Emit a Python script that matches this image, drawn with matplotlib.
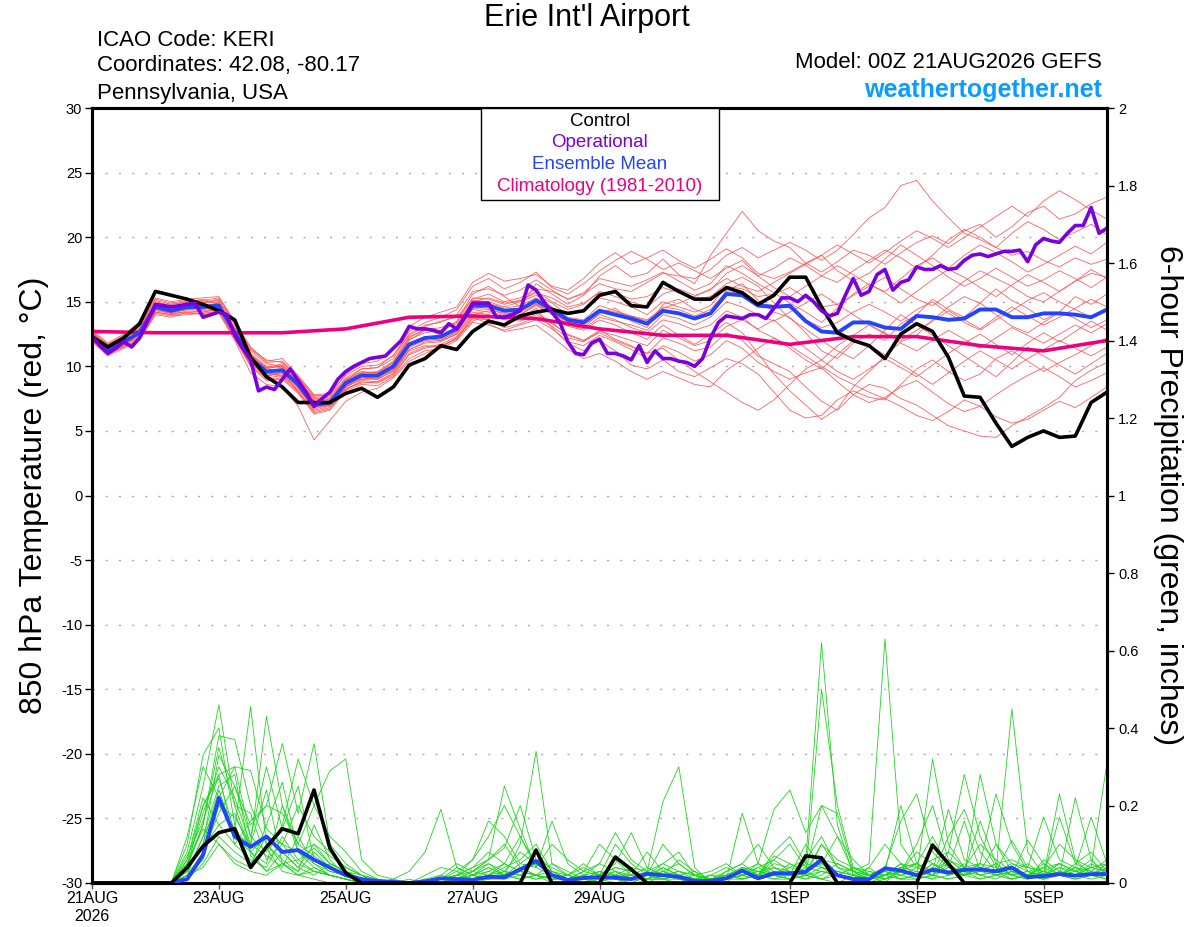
import numpy as np
import matplotlib.pyplot as plt
from matplotlib.patches import Rectangle
from matplotlib.ticker import FormatStrFormatter

plt.rcParams['font.family'] = ['Liberation Sans', 'DejaVu Sans']
plt.rcParams['axes.unicode_minus'] = False

# ---- data (850 hPa temperature, degC) ----
# 6-hourly steps, hour 0 .. 384
control_t = [12.3, 11.5, 12.2, 13.3, 15.8, 15.5, 15.2, 14.8, 14.3, 13.6,
             10.7, 9.2, 8.4, 7.2, 7.2, 7.2, 7.9, 8.3, 7.6, 8.4,
             10.1, 10.6, 11.6, 11.3, 12.7, 13.5, 13.2, 13.9, 14.2, 14.4,
             14.1, 14.3, 15.5, 15.8, 14.7, 14.6, 16.5, 15.8, 15.2, 15.2,
             16.1, 15.7, 14.8, 15.5, 16.9, 16.9, 14.6, 12.6, 12.0, 11.6,
             10.6, 12.5, 13.3, 12.7, 10.7, 7.7, 7.6, 5.6, 3.8, 4.5,
             5.0, 4.5, 4.6, 7.2, 8.0]

mean_t = [12.2, 11.3, 11.9, 12.6, 14.6, 14.3, 14.6, 14.6, 14.7, 12.6,
          10.6, 9.6, 9.7, 8.6, 7.0, 7.2, 8.7, 9.3, 9.3, 10.0,
          11.7, 12.2, 12.3, 12.9, 14.7, 14.7, 14.3, 14.4, 15.1, 14.4,
          13.6, 13.4, 14.3, 14.0, 13.7, 13.3, 14.3, 14.1, 13.7, 14.1,
          15.6, 15.5, 14.7, 14.6, 14.7, 13.5, 12.7, 12.6, 13.4, 13.4,
          13.0, 12.9, 13.9, 13.8, 13.6, 13.7, 14.4, 14.4, 13.8, 13.8,
          14.1, 14.1, 14.0, 13.8, 14.4]

# operational run, 3-hourly steps
oper_t = [12.3, 11.6, 11.0, 11.4, 11.9, 11.5, 12.2, 13.5, 14.8, 14.7,
          14.6, 14.7, 14.8, 14.9, 13.8, 14.0, 14.2, 14.0, 12.4, 11.4,
          10.5, 8.1, 8.4, 8.2, 9.0, 9.8, 8.9, 8.0, 6.9, 7.5,
          8.0, 9.0, 9.6, 10.0, 10.3, 10.6, 10.7, 10.8, 11.4, 12.0,
          13.1, 12.9, 12.9, 12.8, 12.6, 13.3, 12.9, 13.8, 14.9, 14.9,
          14.9, 13.8, 13.8, 14.0, 14.3, 16.3, 15.9, 15.0, 14.2, 13.4,
          11.9, 11.0, 10.9, 11.8, 12.1, 11.0, 11.0, 10.8, 10.5, 11.6,
          10.3, 11.2, 10.6, 10.6, 10.4, 10.3, 10.0, 10.6, 12.2, 13.4,
          13.9, 13.8, 13.7, 14.0, 14.0, 13.7, 14.5, 15.3, 15.3, 15.0,
          15.5, 15.0, 14.3, 13.9, 14.1, 15.5, 16.8, 15.5, 15.8, 17.1,
          17.5, 15.9, 16.5, 16.7, 17.7, 17.5, 17.5, 17.8, 17.5, 17.6,
          18.2, 18.6, 18.7, 18.5, 18.7, 18.9, 18.9, 19.0, 18.1, 19.4,
          19.9, 19.7, 19.6, 20.3, 20.9, 20.9, 22.3, 20.3, 20.7]

# climatology, daily
clim_t = [12.7, 12.6, 12.6, 12.6, 12.9, 13.8, 13.9, 13.7, 12.9, 12.4,
          12.4, 11.7, 12.3, 12.3, 11.6, 11.2, 12.0]

members_t = [
    [12.5, 11.4, 12.3, 13.0, 14.9, 14.8, 15.0, 15.2, 14.8, 13.0, 11.2, 10.2, 10.0, 8.8, 7.6, 7.4, 8.9, 9.8, 9.9, 10.9,
     12.4, 13.1, 13.5, 13.8, 15.2, 15.6, 15.0, 15.3, 16.0, 15.8, 15.2, 15.6, 16.4, 16.0, 15.8, 16.5, 17.2, 17.0, 16.8, 17.5,
     18.6, 19.2, 18.4, 19.0, 19.6, 19.0, 18.2, 19.0, 20.2, 21.5, 22.3, 24.0, 24.4, 22.8, 21.5, 20.3, 19.8, 19.2, 18.6, 18.9,
     18.2, 17.7, 18.4, 17.9, 18.3],
    [12.0, 11.0, 11.6, 12.8, 14.4, 14.1, 14.9, 14.5, 15.0, 12.2, 10.3, 9.3, 9.5, 8.0, 6.7, 7.0, 8.6, 9.2, 9.0, 10.2,
     12.0, 12.8, 12.6, 13.5, 15.6, 16.2, 15.4, 14.6, 16.4, 15.6, 14.8, 15.5, 17.0, 17.8, 16.9, 17.2, 18.3, 17.1, 16.4, 18.6,
     20.3, 22.0, 20.5, 19.7, 19.2, 18.0, 17.3, 18.1, 19.0, 18.6, 17.9, 18.8, 19.6, 20.1, 19.5, 20.5, 21.0, 20.0, 20.8, 21.9,
     22.4, 21.4, 21.8, 22.6, 23.1],
    [12.4, 11.2, 11.8, 12.2, 14.2, 14.0, 14.3, 14.2, 14.5, 12.4, 10.1, 9.5, 9.2, 8.2, 6.9, 7.0, 8.2, 8.9, 8.8, 9.4,
     11.0, 11.5, 11.7, 12.3, 13.9, 13.6, 13.3, 13.8, 14.2, 13.3, 12.5, 12.0, 12.8, 12.1, 11.6, 11.0, 12.2, 11.8, 11.2, 11.5,
     12.6, 12.0, 10.8, 10.2, 9.6, 8.4, 7.3, 6.6, 7.8, 8.6, 8.3, 7.5, 7.0, 6.2, 5.4, 5.0, 4.6, 4.5, 5.4, 6.1,
     6.8, 7.6, 8.9, 9.7, 10.3],
    [12.1, 11.0, 11.5, 12.0, 14.0, 13.8, 14.2, 14.0, 14.1, 12.0, 9.5, 8.6, 8.4, 6.9, 4.3, 5.8, 7.3, 8.0, 8.3, 9.1,
     10.4, 11.0, 11.5, 12.2, 13.5, 14.0, 13.6, 14.0, 14.8, 14.3, 13.2, 13.0, 14.1, 14.5, 13.5, 13.0, 14.8, 15.2, 14.4, 14.0,
     15.9, 16.4, 15.1, 14.2, 13.8, 12.6, 11.2, 10.6, 11.8, 12.5, 12.0, 13.3, 14.0, 15.2, 14.4, 13.8, 14.9, 16.0, 15.1, 14.5,
     13.6, 14.2, 15.4, 14.8, 15.6],
    [12.6, 11.6, 12.2, 12.9, 15.0, 14.6, 14.8, 14.9, 15.2, 13.3, 11.0, 10.0, 9.9, 8.7, 7.3, 7.1, 8.5, 9.0, 9.2, 9.7,
     11.3, 11.9, 12.0, 12.5, 14.0, 14.3, 13.9, 13.6, 14.5, 13.0, 11.8, 11.2, 12.0, 11.2, 10.1, 9.8, 10.5, 9.6, 9.2, 9.9,
     10.6, 10.2, 9.4, 8.0, 6.6, 6.0, 6.2, 7.4, 8.1, 7.6, 7.4, 8.6, 9.8, 10.5, 9.6, 8.9, 9.4, 10.6, 11.2, 10.4,
     9.6, 10.3, 10.9, 11.6, 12.2],
    [12.3, 11.5, 12.0, 12.6, 14.7, 14.5, 14.6, 14.8, 14.6, 12.8, 10.9, 9.8, 10.1, 9.0, 7.5, 7.6, 9.0, 9.6, 9.5, 10.3,
     12.2, 12.9, 12.4, 13.1, 15.1, 15.0, 14.6, 15.0, 15.5, 14.9, 14.0, 14.3, 15.3, 15.0, 14.6, 14.0, 15.0, 14.6, 14.2, 14.7,
     16.2, 16.0, 15.4, 15.6, 16.1, 15.3, 14.6, 14.8, 15.5, 16.2, 16.9, 16.0, 15.2, 14.7, 15.6, 16.6, 17.4, 16.8, 16.2, 15.4,
     15.0, 15.8, 16.6, 17.2, 16.9],
    [12.2, 11.1, 11.7, 12.4, 14.5, 14.1, 14.4, 14.3, 14.5, 12.5, 10.4, 9.2, 9.6, 8.4, 6.6, 6.9, 8.4, 9.1, 9.0, 9.7,
     11.5, 12.0, 12.1, 12.6, 14.4, 14.2, 13.8, 14.0, 14.7, 14.1, 13.1, 12.8, 13.6, 13.2, 12.6, 12.1, 13.2, 12.4, 11.7, 12.5,
     13.4, 12.6, 11.0, 9.4, 8.1, 7.0, 5.9, 6.7, 8.4, 9.6, 10.8, 11.9, 12.4, 13.6, 14.6, 15.4, 14.9, 14.0, 13.1, 12.6,
     13.4, 14.2, 13.7, 13.0, 13.6],
    [12.8, 11.8, 12.5, 13.4, 15.3, 15.0, 15.2, 15.3, 15.4, 13.5, 11.5, 10.4, 10.6, 9.3, 7.8, 7.9, 9.3, 10.0, 10.1, 10.8,
     12.7, 13.4, 13.8, 14.4, 16.2, 16.8, 16.0, 16.5, 17.3, 16.1, 15.6, 16.4, 17.4, 18.2, 18.9, 18.3, 17.5, 18.0, 17.4, 16.8,
     17.6, 18.2, 17.0, 16.1, 15.4, 16.2, 17.0, 17.8, 17.1, 16.3, 15.8, 16.8, 17.8, 18.4, 17.6, 18.6, 19.4, 18.8, 18.1, 17.3,
     17.9, 18.6, 19.3, 18.7, 19.6],
    [11.9, 10.8, 11.4, 12.1, 14.1, 13.9, 14.0, 14.1, 14.3, 12.1, 10.0, 8.9, 9.0, 7.9, 6.3, 6.6, 8.1, 8.6, 8.5, 9.2,
     10.6, 11.2, 11.4, 12.0, 13.4, 13.2, 12.8, 13.2, 13.6, 12.9, 11.9, 11.6, 12.4, 11.9, 11.3, 10.6, 11.6, 11.1, 10.4, 10.9,
     12.0, 11.4, 10.3, 9.6, 9.0, 9.5, 9.9, 8.8, 7.8, 7.2, 7.6, 8.4, 8.9, 8.0, 7.1, 6.5, 6.9, 7.8, 8.6, 9.3,
     9.9, 9.2, 8.4, 8.9, 9.5],
    [12.4, 11.3, 12.1, 12.7, 14.8, 14.4, 14.7, 14.6, 14.9, 12.7, 10.7, 9.7, 9.8, 8.6, 7.1, 7.3, 8.8, 9.4, 9.3, 10.1,
     11.8, 12.3, 12.2, 13.0, 14.8, 14.9, 14.5, 14.7, 15.3, 14.6, 13.8, 13.6, 14.7, 14.3, 13.9, 13.5, 14.6, 14.4, 13.9, 14.4,
     15.8, 15.6, 14.9, 14.7, 14.5, 13.6, 13.0, 13.4, 14.2, 14.8, 14.2, 13.5, 14.4, 15.0, 14.1, 13.4, 12.8, 13.6, 14.3, 15.1,
     15.7, 15.0, 14.4, 13.8, 14.5],
    [12.5, 11.5, 12.1, 13.1, 15.1, 14.8, 15.0, 15.0, 15.1, 13.2, 11.3, 10.5, 10.3, 9.1, 7.7, 7.8, 9.4, 10.2, 10.4, 11.3,
     13.1, 13.8, 14.2, 14.6, 16.5, 17.2, 16.6, 16.8, 17.1, 16.2, 15.9, 16.8, 18.0, 18.8, 17.9, 18.4, 19.0, 18.2, 17.6, 18.3,
     19.1, 18.4, 17.2, 16.8, 17.3, 18.0, 18.6, 17.4, 16.6, 17.2, 18.3, 19.4, 18.6, 17.8, 16.9, 16.2, 16.8, 17.6, 16.9, 16.2,
     16.7, 17.4, 16.8, 16.1, 16.9],
    [12.0, 11.1, 11.6, 12.3, 14.3, 14.1, 14.2, 14.2, 14.4, 12.3, 10.2, 9.1, 9.3, 8.1, 6.5, 6.8, 8.3, 8.7, 8.8, 9.5,
     11.2, 11.6, 11.5, 12.2, 13.8, 13.3, 12.7, 12.9, 13.2, 12.3, 11.3, 10.6, 11.0, 10.4, 9.6, 9.0, 9.6, 9.1, 8.6, 8.4,
     9.7, 10.5, 11.4, 12.2, 11.4, 10.5, 9.8, 10.9, 12.0, 11.6, 10.9, 10.2, 9.4, 8.6, 9.5, 10.4, 11.2, 10.5, 9.8, 10.6,
     11.3, 12.0, 11.4, 10.8, 11.5],
    [12.6, 11.7, 12.3, 12.8, 14.9, 14.6, 14.9, 14.9, 15.0, 12.9, 10.8, 9.9, 10.2, 8.9, 7.4, 7.5, 8.9, 9.5, 9.6, 10.4,
     12.3, 12.8, 13.0, 13.4, 15.3, 15.2, 14.8, 15.1, 15.8, 15.0, 14.4, 14.8, 15.8, 15.4, 15.0, 14.6, 15.6, 16.0, 15.5, 15.9,
     17.2, 17.8, 17.0, 17.6, 18.4, 17.8, 17.0, 16.5, 17.4, 18.2, 19.0, 18.4, 17.6, 18.6, 19.8, 20.6, 20.0, 19.2, 20.3, 21.2,
     20.6, 19.8, 20.4, 21.0, 20.2],
    [12.2, 11.2, 11.8, 12.5, 14.6, 14.2, 14.5, 14.5, 14.6, 12.6, 10.5, 9.4, 9.5, 8.4, 6.9, 7.1, 8.5, 9.2, 9.1, 9.9,
     11.6, 12.1, 12.4, 12.8, 14.6, 14.5, 14.0, 14.3, 14.9, 14.2, 13.4, 13.2, 14.0, 13.6, 13.0, 12.6, 13.6, 13.3, 12.8, 13.2,
     14.3, 13.8, 12.8, 12.2, 11.6, 10.8, 10.0, 9.2, 8.6, 8.0, 7.5, 6.9, 6.2, 5.8, 6.5, 7.4, 6.9, 6.1, 5.6, 5.9,
     6.6, 7.3, 6.8, 7.6, 8.4],
    [12.3, 11.4, 12.0, 12.7, 14.7, 14.4, 14.6, 14.7, 14.8, 12.7, 10.6, 9.6, 9.6, 8.5, 7.0, 7.2, 8.6, 9.3, 9.2, 10.0,
     11.7, 12.2, 12.0, 12.7, 14.5, 14.4, 14.1, 14.2, 14.8, 14.0, 13.2, 12.9, 13.8, 13.5, 13.2, 12.8, 14.0, 13.7, 13.2, 13.8,
     15.0, 14.6, 14.0, 13.5, 14.2, 14.9, 15.6, 14.8, 14.0, 13.2, 12.5, 12.0, 12.8, 13.5, 14.3, 13.6, 12.9, 13.8, 14.6, 13.9,
     13.2, 13.8, 14.5, 15.2, 14.6],
    [12.1, 11.1, 11.7, 12.5, 14.5, 14.2, 14.5, 14.4, 14.6, 12.5, 10.5, 9.5, 9.7, 8.5, 6.9, 7.1, 8.7, 9.3, 9.1, 9.8,
     11.5, 12.1, 12.3, 12.9, 14.7, 14.8, 14.4, 14.5, 15.2, 14.5, 13.7, 13.5, 14.4, 14.2, 13.9, 13.6, 14.5, 14.9, 15.4, 16.0,
     16.8, 16.2, 15.8, 16.5, 17.2, 17.9, 18.6, 19.4, 18.7, 18.0, 18.8, 19.7, 20.5, 19.9, 19.2, 20.0, 20.8, 21.6, 22.4, 21.6,
     22.8, 23.6, 22.9, 22.1, 21.4],
    [12.4, 11.3, 11.9, 12.4, 14.4, 14.2, 14.4, 14.5, 14.5, 12.5, 10.4, 9.3, 9.4, 8.3, 6.8, 7.0, 8.4, 9.0, 9.0, 9.6,
     11.3, 11.8, 11.9, 12.5, 14.2, 14.0, 13.6, 13.5, 14.0, 13.4, 12.4, 12.0, 12.6, 12.0, 11.5, 11.0, 11.4, 10.5, 9.6, 8.8,
     8.0, 7.2, 6.6, 7.4, 8.6, 9.8, 10.5, 11.6, 12.4, 13.2, 12.6, 11.8, 11.2, 12.0, 12.8, 12.1, 11.4, 12.2, 13.0, 12.4,
     11.8, 12.5, 13.2, 12.6, 13.3],
    [12.7, 11.7, 12.4, 13.2, 15.2, 14.9, 15.1, 15.1, 15.3, 13.4, 11.4, 10.3, 10.4, 9.2, 7.7, 7.7, 9.1, 9.8, 9.9, 10.6,
     12.5, 13.2, 13.4, 14.0, 15.8, 16.0, 15.5, 15.9, 16.7, 15.9, 15.2, 15.7, 16.8, 16.5, 16.2, 16.7, 17.3, 16.6, 15.9, 16.4,
     17.8, 17.2, 16.4, 15.7, 14.9, 14.2, 13.4, 14.5, 15.6, 16.4, 15.7, 14.9, 15.8, 16.7, 17.5, 16.9, 16.1, 15.4, 16.3, 17.1,
     16.5, 15.8, 16.6, 17.5, 16.8],
    [12.0, 10.9, 11.5, 12.2, 14.2, 14.0, 14.1, 14.1, 14.2, 12.2, 10.1, 9.0, 9.1, 8.0, 6.4, 6.7, 8.2, 8.8, 8.7, 9.3,
     10.9, 11.4, 11.6, 12.1, 13.7, 13.6, 13.0, 13.3, 13.8, 13.1, 12.2, 11.9, 12.7, 12.4, 12.0, 11.6, 12.8, 12.2, 11.6, 12.0,
     13.1, 13.6, 12.9, 13.6, 12.5, 11.4, 10.5, 9.6, 9.0, 9.8, 10.6, 9.9, 9.2, 10.1, 11.0, 11.8, 12.5, 11.7, 10.9, 11.8,
     12.6, 11.9, 12.7, 13.5, 12.8],
    [12.5, 11.6, 12.2, 12.8, 14.9, 14.6, 14.8, 14.8, 14.8, 12.9, 10.9, 9.9, 10.0, 8.8, 7.3, 7.4, 8.9, 9.5, 9.5, 10.3,
     12.1, 12.6, 12.8, 13.3, 15.0, 15.3, 14.9, 15.1, 15.7, 15.3, 14.6, 14.9, 15.7, 15.7, 15.2, 15.4, 16.1, 15.7, 15.2, 15.4,
     16.4, 16.9, 16.2, 14.9, 13.7, 12.9, 12.0, 11.2, 10.6, 11.6, 12.8, 14.0, 13.2, 12.4, 11.6, 10.8, 10.0, 9.2, 10.3, 11.5,
     10.8, 10.1, 9.4, 10.2, 11.0],
]

# ---- data (6-hour precipitation, inches) ----
control_p = [0, 0, 0, 0, 0, 0, 0.04, 0.095, 0.13, 0.14,
             0.04, 0.093, 0.14, 0.127, 0.24, 0.09, 0.026, 0, 0, 0,
             0, 0, 0, 0, 0, 0, 0, 0, 0.085, 0,
             0, 0, 0, 0.067, 0.035, 0, 0, 0, 0, 0,
             0, 0, 0, 0, 0, 0.07, 0.065, 0, 0, 0,
             0, 0, 0, 0.098, 0.05, 0, 0, 0, 0, 0,
             0, 0, 0, 0, 0]

mean_p = [0, 0, 0, 0, 0, 0, 0.01, 0.072, 0.22, 0.12,
          0.093, 0.12, 0.08, 0.085, 0.06, 0.04, 0.02, 0.01, 0.005, 0.003,
          0, 0.004, 0.012, 0.01, 0.008, 0.016, 0.015, 0.035, 0.057, 0.02,
          0.008, 0.013, 0.015, 0.014, 0.01, 0.024, 0.02, 0.016, 0.005, 0.005,
          0.012, 0.032, 0.012, 0.025, 0.025, 0.029, 0.06, 0.02, 0.01, 0.01,
          0.038, 0.032, 0.02, 0.034, 0.027, 0.034, 0.035, 0.03, 0.04, 0.015,
          0.018, 0.023, 0.019, 0.023, 0.023]

members_p = [
    [0, 0, 0, 0, 0, 0, 0.08, 0.25, 0.46, 0.2, 0.08, 0.03, 0.05, 0.02, 0.01, 0, 0, 0, 0, 0,
     0, 0.01, 0.02, 0.05, 0.03, 0.06, 0.1, 0.04, 0.02, 0, 0, 0.02, 0.05, 0.03, 0.01, 0, 0.02, 0.06, 0.03, 0,
     0, 0.04, 0.02, 0.08, 0.12, 0.05, 0.62, 0.15, 0.02, 0, 0.01, 0.03, 0.08, 0.05, 0.02, 0.04, 0.1, 0.06, 0.03, 0.01,
     0.02, 0.05, 0.03, 0.02, 0.04],
    [0, 0, 0, 0, 0, 0, 0.02, 0.12, 0.2, 0.14, 0.455, 0.1, 0.05, 0.06, 0.03, 0.02, 0.01, 0, 0, 0.01,
     0.03, 0.08, 0.19, 0.04, 0.02, 0.01, 0.03, 0.08, 0.05, 0.02, 0, 0.01, 0.03, 0.01, 0, 0.02, 0.04, 0.02, 0, 0,
     0.01, 0.02, 0.04, 0.02, 0.05, 0.03, 0.01, 0, 0.02, 0.04, 0.01, 0.03, 0.1, 0.2, 0.06, 0.03, 0.16, 0.05, 0.02, 0.01,
     0.03, 0.02, 0.05, 0.08, 0.03],
    [0, 0, 0, 0, 0, 0, 0.05, 0.18, 0.3, 0.22, 0.1, 0.43, 0.2, 0.08, 0.05, 0.02, 0.01, 0, 0, 0,
     0, 0, 0.01, 0.02, 0.06, 0.16, 0.12, 0.05, 0.08, 0.03, 0.01, 0, 0.02, 0.05, 0.13, 0.04, 0.02, 0.01, 0, 0,
     0.03, 0.05, 0.02, 0.04, 0.03, 0.02, 0.5, 0.2, 0.04, 0.02, 0, 0.04, 0.03, 0.02, 0.12, 0.19, 0.08, 0.03, 0.01, 0.02,
     0.04, 0.1, 0.06, 0.02, 0.05],
    [0, 0, 0, 0, 0, 0, 0.03, 0.1, 0.33, 0.25, 0.15, 0.2, 0.36, 0.18, 0.36, 0.1, 0.05, 0.02, 0, 0,
     0.01, 0, 0, 0.01, 0.03, 0.05, 0.02, 0.1, 0.34, 0.05, 0.02, 0.01, 0, 0.02, 0.04, 0.03, 0.01, 0, 0.01, 0.02,
     0.01, 0.03, 0.05, 0.02, 0.01, 0.03, 0.2, 0.12, 0.03, 0, 0.02, 0.05, 0.02, 0.32, 0.1, 0.04, 0.02, 0.03, 0.45, 0.08,
     0.02, 0.04, 0.03, 0.06, 0.02],
    [0, 0, 0, 0, 0, 0, 0.06, 0.2, 0.28, 0.3, 0.12, 0.08, 0.15, 0.32, 0.2, 0.29, 0.32, 0.06, 0.02, 0.01,
     0, 0, 0, 0.02, 0.04, 0.08, 0.05, 0.12, 0.04, 0.16, 0.05, 0.02, 0.01, 0, 0.01, 0.03, 0.21, 0.3, 0.04, 0,
     0.01, 0.02, 0.04, 0.06, 0.03, 0.02, 0.1, 0.04, 0.02, 0.01, 0.02, 0.03, 0.02, 0.05, 0.03, 0.02, 0.28, 0.1, 0.03, 0.02,
     0.01, 0.03, 0.02, 0.04, 0.31],
    [0, 0, 0, 0, 0, 0, 0.1, 0.33, 0.4, 0.15, 0.05, 0.12, 0.08, 0.04, 0.1, 0.05, 0.03, 0.02, 0.01, 0,
     0, 0.02, 0.04, 0.03, 0.01, 0.02, 0.04, 0.06, 0.1, 0.03, 0.01, 0.03, 0.1, 0.06, 0.02, 0.01, 0.03, 0.05, 0.02, 0,
     0.01, 0.18, 0.05, 0.19, 0.24, 0.13, 0.2, 0.18, 0.03, 0.01, 0.02, 0.04, 0.05, 0.02, 0.08, 0.04, 0.05, 0.23, 0.1, 0.03,
     0.02, 0.23, 0.06, 0.04, 0.03],
    [0, 0, 0, 0, 0, 0, 0.04, 0.15, 0.38, 0.37, 0.2, 0.1, 0.06, 0.03, 0.08, 0.04, 0.02, 0.01, 0, 0,
     0, 0, 0.01, 0.04, 0.02, 0.05, 0.03, 0.02, 0.06, 0.02, 0.01, 0, 0.01, 0.03, 0.02, 0.01, 0.04, 0.02, 0.01, 0,
     0.02, 0.03, 0.02, 0.05, 0.04, 0.06, 0.12, 0.04, 0.03, 0.05, 0.63, 0.1, 0.04, 0.02, 0.06, 0.03, 0.05, 0.04, 0.02, 0.11,
     0.05, 0.02, 0.22, 0.06, 0.02],
    [0, 0, 0, 0, 0, 0, 0.12, 0.3, 0.22, 0.3, 0.29, 0.14, 0.1, 0.05, 0.03, 0.02, 0.01, 0, 0, 0,
     0, 0, 0, 0.01, 0.03, 0.06, 0.09, 0.2, 0.06, 0.04, 0.02, 0.05, 0.02, 0.01, 0, 0.02, 0.05, 0.03, 0.02, 0.01,
     0.03, 0.05, 0.1, 0.04, 0.02, 0.04, 0.05, 0.12, 0.06, 0.02, 0.03, 0.2, 0.05, 0.03, 0.19, 0.06, 0.04, 0.03, 0.05, 0.04,
     0.17, 0.06, 0.04, 0.17, 0.05],
    [0, 0, 0, 0, 0, 0, 0.02, 0.08, 0.18, 0.25, 0.12, 0.3, 0.14, 0.25, 0.06, 0.03, 0.02, 0.01, 0, 0,
     0, 0, 0.02, 0.01, 0.02, 0.04, 0.02, 0.05, 0.04, 0.1, 0.06, 0.03, 0.02, 0.04, 0.03, 0.02, 0.01, 0.02, 0.03, 0.01,
     0.02, 0.04, 0.03, 0.02, 0.02, 0.1, 0.04, 0.02, 0.01, 0.02, 0.04, 0.16, 0.23, 0.08, 0.04, 0.16, 0.03, 0.02, 0.04, 0.02,
     0.03, 0.05, 0.03, 0.02, 0.04],
    [0, 0, 0, 0, 0, 0, 0.05, 0.15, 0.35, 0.2, 0.18, 0.06, 0.1, 0.2, 0.12, 0.08, 0.04, 0.02, 0.01, 0,
     0, 0, 0.01, 0.02, 0.01, 0.03, 0.02, 0.04, 0.02, 0.01, 0.02, 0.04, 0.02, 0.1, 0.05, 0.02, 0.03, 0.02, 0.01, 0.01,
     0.02, 0.03, 0.02, 0.01, 0.02, 0.05, 0.04, 0.03, 0.02, 0.01, 0.03, 0.02, 0.04, 0.03, 0.05, 0.02, 0.04, 0.02, 0.03, 0.05,
     0.02, 0.17, 0.05, 0.03, 0.02],
    [0, 0, 0, 0, 0, 0, 0.04, 0.2, 0.27, 0.13, 0.1, 0.24, 0.05, 0.03, 0.15, 0.06, 0.02, 0.01, 0, 0,
     0, 0, 0, 0, 0.01, 0.02, 0.05, 0.03, 0.02, 0.05, 0.03, 0.01, 0.02, 0.01, 0.02, 0.08, 0.03, 0.01, 0.02, 0.03,
     0.05, 0.02, 0.01, 0.02, 0.03, 0.02, 0.04, 0.03, 0.02, 0.01, 0.02, 0.03, 0.05, 0.12, 0.04, 0.02, 0.03, 0.1, 0.05, 0.03,
     0.02, 0.04, 0.02, 0.05, 0.03],
    [0, 0, 0, 0, 0, 0, 0.03, 0.1, 0.24, 0.12, 0.08, 0.05, 0.2, 0.1, 0.07, 0.04, 0.02, 0, 0, 0,
     0, 0, 0.01, 0.02, 0.03, 0.02, 0.01, 0.03, 0.05, 0.02, 0.01, 0.02, 0.03, 0.02, 0.01, 0.02, 0.02, 0.03, 0.01, 0.01,
     0.01, 0.02, 0.03, 0.04, 0.02, 0.03, 0.05, 0.02, 0.01, 0.04, 0.1, 0.05, 0.02, 0.05, 0.03, 0.02, 0.04, 0.03, 0.11, 0.04,
     0.03, 0.02, 0.04, 0.03, 0.06],
    [0, 0, 0, 0, 0, 0, 0.06, 0.22, 0.15, 0.1, 0.06, 0.04, 0.12, 0.06, 0.09, 0.05, 0.03, 0.01, 0, 0,
     0, 0.01, 0, 0.01, 0.02, 0.01, 0.02, 0.01, 0.02, 0.03, 0.01, 0.01, 0.01, 0.02, 0.01, 0.01, 0.02, 0.01, 0, 0.01,
     0.02, 0.01, 0.02, 0.03, 0.02, 0.01, 0.02, 0.05, 0.03, 0.02, 0.01, 0.02, 0.03, 0.02, 0.01, 0.02, 0.05, 0.02, 0.03, 0.02,
     0.04, 0.02, 0.03, 0.02, 0.05],
    [0, 0, 0, 0, 0, 0, 0.02, 0.06, 0.2, 0.17, 0.1, 0.07, 0.04, 0.12, 0.05, 0.03, 0.02, 0, 0, 0,
     0, 0, 0, 0, 0.01, 0.02, 0.03, 0.02, 0.01, 0.02, 0.02, 0.01, 0.03, 0.02, 0.02, 0.04, 0.02, 0.01, 0.01, 0.02,
     0.04, 0.02, 0.03, 0.02, 0.01, 0.02, 0.03, 0.02, 0.04, 0.02, 0.03, 0.01, 0.02, 0.04, 0.02, 0.05, 0.02, 0.03, 0.02, 0.03,
     0.01, 0.03, 0.02, 0.01, 0.02],
    [0, 0, 0, 0, 0, 0, 0.01, 0.05, 0.12, 0.08, 0.05, 0.09, 0.03, 0.02, 0.04, 0.02, 0.01, 0, 0, 0,
     0, 0, 0, 0, 0, 0.01, 0.02, 0.01, 0.02, 0.01, 0.01, 0.02, 0.01, 0.01, 0.02, 0.01, 0.01, 0.02, 0.01, 0,
     0.01, 0.02, 0.01, 0.02, 0.01, 0.02, 0.01, 0.02, 0.01, 0.03, 0.02, 0.01, 0.02, 0.01, 0.02, 0.03, 0.01, 0.02, 0.01, 0.02,
     0.01, 0.02, 0.01, 0.02, 0.01],
    [0, 0, 0, 0, 0, 0, 0.05, 0.14, 0.1, 0.06, 0.04, 0.15, 0.26, 0.08, 0.04, 0.02, 0.01, 0, 0, 0,
     0, 0, 0.01, 0.01, 0.02, 0.03, 0.05, 0.03, 0.02, 0.01, 0.01, 0.01, 0.02, 0.03, 0.01, 0.02, 0.1, 0.05, 0.02, 0.01,
     0.01, 0.02, 0.05, 0.03, 0.02, 0.01, 0.03, 0.02, 0.01, 0.02, 0.04, 0.02, 0.01, 0.02, 0.04, 0.03, 0.02, 0.01, 0.03, 0.02,
     0.05, 0.02, 0.04, 0.02, 0.03],
    [0, 0, 0, 0, 0, 0, 0.03, 0.12, 0.25, 0.28, 0.07, 0.03, 0.08, 0.04, 0.02, 0.05, 0.03, 0.01, 0, 0,
     0, 0, 0, 0.01, 0.02, 0.04, 0.02, 0.03, 0.02, 0.01, 0.02, 0.01, 0.02, 0.01, 0.03, 0.02, 0.01, 0.01, 0.01, 0.02,
     0.02, 0.01, 0.02, 0.06, 0.1, 0.04, 0.03, 0.02, 0.04, 0.02, 0.01, 0.03, 0.02, 0.01, 0.05, 0.02, 0.03, 0.05, 0.02, 0.01,
     0.06, 0.03, 0.02, 0.04, 0.03],
    [0, 0, 0, 0, 0, 0, 0.02, 0.04, 0.1, 0.05, 0.03, 0.02, 0.05, 0.02, 0.03, 0.02, 0.01, 0, 0, 0,
     0, 0, 0, 0, 0.01, 0.01, 0.01, 0.02, 0.01, 0.02, 0.01, 0, 0.01, 0.02, 0.01, 0.01, 0.01, 0.02, 0.01, 0,
     0.01, 0.01, 0.02, 0.01, 0.01, 0.02, 0.01, 0.03, 0.02, 0.01, 0.02, 0.01, 0.01, 0.02, 0.01, 0.02, 0.01, 0.02, 0.01, 0.02,
     0.01, 0.02, 0.01, 0.02, 0.01],
    [0, 0, 0, 0, 0, 0, 0.07, 0.16, 0.28, 0.1, 0.16, 0.2, 0.18, 0.1, 0.2, 0.12, 0.08, 0.03, 0.01, 0,
     0, 0, 0.01, 0.03, 0.06, 0.12, 0.2, 0.12, 0.05, 0.03, 0.02, 0.01, 0.02, 0.04, 0.03, 0.02, 0.02, 0.03, 0.02, 0.01,
     0.02, 0.04, 0.03, 0.02, 0.04, 0.03, 0.1, 0.06, 0.04, 0.03, 0.02, 0.05, 0.04, 0.06, 0.08, 0.28, 0.12, 0.04, 0.02, 0.03,
     0.04, 0.05, 0.03, 0.04, 0.05],
    [0, 0, 0, 0, 0, 0, 0.04, 0.09, 0.15, 0.18, 0.08, 0.12, 0.1, 0.08, 0.1, 0.07, 0.04, 0.02, 0, 0,
     0, 0, 0, 0.02, 0.04, 0.06, 0.25, 0.14, 0.04, 0.02, 0.01, 0.03, 0.05, 0.13, 0.06, 0.03, 0.05, 0.08, 0.02, 0.01,
     0.01, 0.03, 0.02, 0.07, 0.05, 0.03, 0.06, 0.05, 0.03, 0.02, 0.03, 0.04, 0.05, 0.03, 0.06, 0.04, 0.03, 0.05, 0.06, 0.04,
     0.03, 0.02, 0.04, 0.03, 0.02],
]

date_labels = ['21AUG\n2026', '23AUG', '25AUG', '27AUG', '29AUG', '1SEP', '3SEP', '5SEP']
date_days = [0, 2, 4, 6, 8, 11, 13, 15]

hours6 = np.arange(len(control_t)) * 6
hours3 = np.arange(len(oper_t)) * 3
hours24 = np.arange(len(clim_t)) * 24

RED = '#ff5050'
GREEN = '#1fd61f'
BLUE = '#2244ff'
PURPLE = '#7a00dd'
PINK = '#ec0080'

fig = plt.figure(figsize=(12, 9.27), dpi=100)
ax = fig.add_axes([92 / 1200, 1 - 883 / 927, (1107 - 92) / 1200, (883 - 108) / 927])
ax2 = ax.twinx()

# temperature (left axis)
for m in members_t:
    ax.plot(hours6, m, color=RED, lw=0.6, alpha=0.9, zorder=2)
ax.plot(hours24, clim_t, color=PINK, lw=2.6, zorder=3)
ax.plot(hours6, mean_t, color=BLUE, lw=2.8, zorder=4)
ax.plot(hours6, control_t, color='black', lw=2.6, zorder=5)
ax.plot(hours3, oper_t, color=PURPLE, lw=2.6, zorder=6)

# precipitation (right axis)
for m in members_p:
    ax2.plot(hours6, m, color=GREEN, lw=0.6, zorder=2)
ax2.plot(hours6, mean_p, color=BLUE, lw=2.8, zorder=4)
ax2.plot(hours6, control_p, color='black', lw=2.6, zorder=5)

ax.set_xlim(0, 384)
ax.set_ylim(-30, 30)
ax2.set_ylim(0, 2)

ax.set_yticks(np.arange(-30, 31, 5))
ax2.set_yticks(np.arange(0, 2.01, 0.2))
ax2.yaxis.set_major_formatter(FormatStrFormatter('%g'))
ax.set_xticks([d * 24 for d in date_days])
ax.set_xticklabels(date_labels, fontsize=11.5)

for y in range(-25, 30, 5):
    ax.axhline(y, color='#aaaaaa', lw=1, dashes=(1.5, 8), zorder=1)

ax.tick_params(axis='y', labelsize=10.5, length=5, width=1, direction='out', pad=2)
ax2.tick_params(axis='y', labelsize=10.5, length=5, width=1, direction='out', pad=3)
ax.tick_params(axis='x', length=4, width=1, direction='out', pad=2, color='#555555')
for a in (ax, ax2):
    for s in a.spines.values():
        s.set_linewidth(2.2)

ax.set_ylabel('850 hPa Temperature (red, °C)', fontsize=23, labelpad=9)
ax2.set_ylabel('6-hour Precipitation (green, inches)', fontsize=23, rotation=-90,
               labelpad=32)

# legend box
ax2.add_patch(Rectangle((481 / 1200, 1 - 200 / 927), 238 / 1200, 92 / 927,
                        transform=fig.transFigure, fill=True, facecolor='white',
                        edgecolor='black', lw=1, zorder=10))
leg = [('Control', 'black'), ('Operational', PURPLE),
       ('Ensemble Mean', BLUE), ('Climatology (1981-2010)', PINK)]
for k, (txt, c) in enumerate(leg):
    fig.text(600 / 1200, 1 - (121 + 21.7 * k) / 927, txt, color=c, fontsize=13.5,
             ha='center', va='center', zorder=11)

# header text
fig.text(587 / 1200, 1 - 18 / 927, "Erie Int'l Airport", fontsize=22, ha='center', va='center')
fig.text(97 / 1200, 1 - 40 / 927, 'ICAO Code: KERI', fontsize=16, ha='left', va='center')
fig.text(97 / 1200, 1 - 66 / 927, 'Coordinates: 42.08, -80.17', fontsize=16, ha='left', va='center')
fig.text(97 / 1200, 1 - 93 / 927, 'Pennsylvania, USA', fontsize=16, ha='left', va='center')
fig.text(1102 / 1200, 1 - 63 / 927, 'Model: 00Z 21AUG2026 GEFS', fontsize=16, ha='right', va='center')
fig.text(1102 / 1200, 1 - 90 / 927, 'weathertogether.net', fontsize=18, ha='right', va='center',
         color='#0a9cff', fontweight='bold')

fig.savefig('out.png', dpi=100)
